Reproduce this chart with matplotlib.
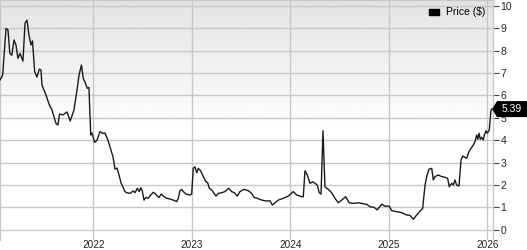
import numpy as np
import matplotlib

matplotlib.use("Agg")
import matplotlib.pyplot as plt
from matplotlib.patches import Patch, Polygon
from matplotlib.transforms import blended_transform_factory

# weekly-ish price samples, x as decimal year
years = [
    2021.053, 2021.080, 2021.114, 2021.134, 2021.153, 2021.173, 2021.195, 2021.215,
    2021.235, 2021.256, 2021.286, 2021.307, 2021.327, 2021.347, 2021.368, 2021.383,
    2021.405, 2021.428, 2021.452, 2021.469, 2021.479, 2021.520, 2021.550, 2021.581,
    2021.621, 2021.642, 2021.657, 2021.692, 2021.733, 2021.766, 2021.804, 2021.835,
    2021.855, 2021.880, 2021.898, 2021.916, 2021.939, 2021.956, 2021.974, 2021.987,
    2022.014, 2022.038, 2022.068, 2022.098, 2022.119, 2022.149, 2022.180, 2022.200,
    2022.220, 2022.241, 2022.261, 2022.281, 2022.322, 2022.339, 2022.373, 2022.406,
    2022.424, 2022.447, 2022.467, 2022.481, 2022.497, 2022.515, 2022.535, 2022.558,
    2022.583, 2022.609, 2022.626, 2022.650, 2022.667, 2022.690, 2022.711, 2022.745,
    2022.779, 2022.812, 2022.847, 2022.863, 2022.880, 2022.897, 2022.914, 2022.941,
    2022.982, 2022.999, 2023.015, 2023.032, 2023.050, 2023.066, 2023.090, 2023.117,
    2023.144, 2023.161, 2023.178, 2023.202, 2023.246, 2023.269, 2023.304, 2023.337,
    2023.375, 2023.405, 2023.431, 2023.462, 2023.489, 2023.530, 2023.574, 2023.608,
    2023.632, 2023.665, 2023.710, 2023.760, 2023.794, 2023.817, 2023.845, 2023.878,
    2023.929, 2023.980, 2024.004, 2024.030, 2024.065, 2024.116, 2024.132, 2024.149,
    2024.173, 2024.200, 2024.227, 2024.251, 2024.274, 2024.294, 2024.312, 2024.332,
    2024.352, 2024.386, 2024.420, 2024.454, 2024.487, 2024.522, 2024.562, 2024.599,
    2024.640, 2024.690, 2024.725, 2024.776, 2024.809, 2024.850, 2024.883, 2024.928,
    2024.961, 2025.005, 2025.029, 2025.080, 2025.131, 2025.182, 2025.215, 2025.249,
    2025.283, 2025.344, 2025.368, 2025.385, 2025.408, 2025.436, 2025.452, 2025.469,
    2025.503, 2025.537, 2025.571, 2025.598, 2025.614, 2025.639, 2025.655, 2025.672,
    2025.689, 2025.713, 2025.733, 2025.750, 2025.774, 2025.791, 2025.814, 2025.835,
    2025.858, 2025.875, 2025.892, 2025.903, 2025.916, 2025.929, 2025.943, 2025.959,
    2025.970, 2025.987, 2026.000, 2026.020, 2026.037, 2026.045,
]
price = [
    6.69, 6.91, 9.00, 8.93, 7.88, 7.80, 8.48, 8.26,
    7.66, 7.88, 7.54, 9.23, 9.37, 8.70, 8.26, 8.44,
    7.06, 6.82, 7.18, 7.14, 6.47, 6.02, 5.62, 5.35,
    4.75, 4.68, 5.17, 5.13, 5.26, 4.86, 5.35, 6.24,
    6.91, 7.36, 6.77, 6.60, 6.32, 6.36, 4.23, 4.32,
    3.90, 4.00, 4.38, 4.30, 4.32, 4.00, 3.56, 3.26,
    2.71, 2.75, 2.45, 2.10, 1.70, 1.65, 1.62, 1.73,
    1.65, 1.85, 1.70, 1.87, 1.74, 1.32, 1.44, 1.40,
    1.55, 1.67, 1.62, 1.50, 1.44, 1.59, 1.50, 1.40,
    1.37, 1.32, 1.25, 1.40, 1.74, 1.80, 1.70, 1.59,
    1.55, 1.59, 2.74, 2.81, 2.54, 2.74, 2.63, 2.37,
    2.14, 2.10, 1.85, 1.77, 1.50, 1.62, 1.65, 1.70,
    1.85, 1.70, 1.65, 1.50, 1.70, 1.80, 1.74, 1.62,
    1.44, 1.40, 1.32, 1.28, 1.29, 1.10, 1.20, 1.32,
    1.40, 1.50, 1.59, 1.70, 1.55, 1.47, 1.47, 2.63,
    2.44, 2.07, 2.14, 2.07, 1.99, 1.65, 1.59, 4.42,
    1.92, 1.80, 1.65, 1.40, 1.20, 1.32, 1.47, 1.20,
    1.17, 1.20, 1.17, 1.13, 1.02, 1.00, 0.88, 1.14,
    1.05, 1.05, 0.85, 0.80, 0.76, 0.65, 0.64, 0.46,
    0.65, 0.95, 1.99, 2.37, 2.70, 2.74, 2.22, 2.37,
    2.44, 2.37, 2.34, 2.29, 1.92, 2.07, 1.99, 2.22,
    1.99, 1.95, 3.11, 3.29, 3.23, 3.19, 3.48, 3.64,
    3.78, 3.93, 4.23, 4.04, 4.31, 4.04, 4.13, 4.01,
    4.23, 4.42, 4.31, 4.45, 5.32, 5.39,
]
year_ticks = [2022, 2023, 2024, 2025, 2026]
price_ticks = list(range(0, 11))
last_label = "5.39"

plt.rcParams["font.family"] = ["Liberation Sans", "DejaVu Sans"]
grid_color = "#c8c8c8"

fig = plt.figure(figsize=(5.27, 2.5), dpi=100)
ax = fig.add_axes([0.0, 0.04, 493 / 527, 0.96])

# light gray to white background gradient
grad = np.ones((256, 1))
fade = np.linspace(0, 1, 256)
grad[:, 0] = np.clip(0.89 + 0.11 * fade / 0.55, 0.89, 1.0)
ax.imshow(grad, cmap="gray", vmin=0, vmax=1, aspect="auto",
          extent=[0, 1, 0, 1], origin="upper", transform=ax.transAxes, zorder=0)

ax.plot(years, price, color="#1a1a1a", lw=1.0, zorder=3)

ax.set_xlim(2021.053, 2026.058)
ax.set_ylim(-0.465, 10.27)
ax.set_xticks(year_ticks)
ax.set_xticklabels([str(y) for y in year_ticks])
ax.set_yticks(price_ticks)
ax.grid(True, color=grid_color, lw=1.0, zorder=1)
ax.set_axisbelow(True)

ax.yaxis.tick_right()
ax.tick_params(axis="y", direction="out", length=4, width=0.8, color="#444444",
               pad=1.5, labelsize=7.5, labelcolor="#222222")
ax.tick_params(axis="x", length=0, pad=0.3, labelsize=7.2, labelcolor="#222222")
for side in ["left", "right", "top", "bottom"]:
    ax.spines[side].set_color(grid_color)
    ax.spines[side].set_linewidth(1.0)
ax.spines["bottom"].set_visible(False)

ax.legend(handles=[Patch(facecolor="black", edgecolor="black")], labels=["Price ($)"],
          loc="upper right", bbox_to_anchor=(1.0, 1.0), frameon=False,
          fontsize=7.5, handlelength=1.0, handleheight=0.5, handletextpad=0.7,
          borderaxespad=0.3)

# last price tag
trans = blended_transform_factory(fig.transFigure, ax.transData)
last = price[-1]
half = 8 / 22.36
tip_x = 492 / 527
body_x = 497 / 527
tag = Polygon([[tip_x, last], [body_x, last + half], [1.0, last + half],
               [1.0, last - half], [body_x, last - half]],
              closed=True, facecolor="black", edgecolor="none",
              transform=trans, clip_on=False, zorder=5)
fig.add_artist(tag)
fig.text((body_x + 1.0) / 2, last, last_label, color="white", fontsize=7.5,
         ha="center", va="center", transform=trans, zorder=6)

fig.savefig("out.png", dpi=100)
